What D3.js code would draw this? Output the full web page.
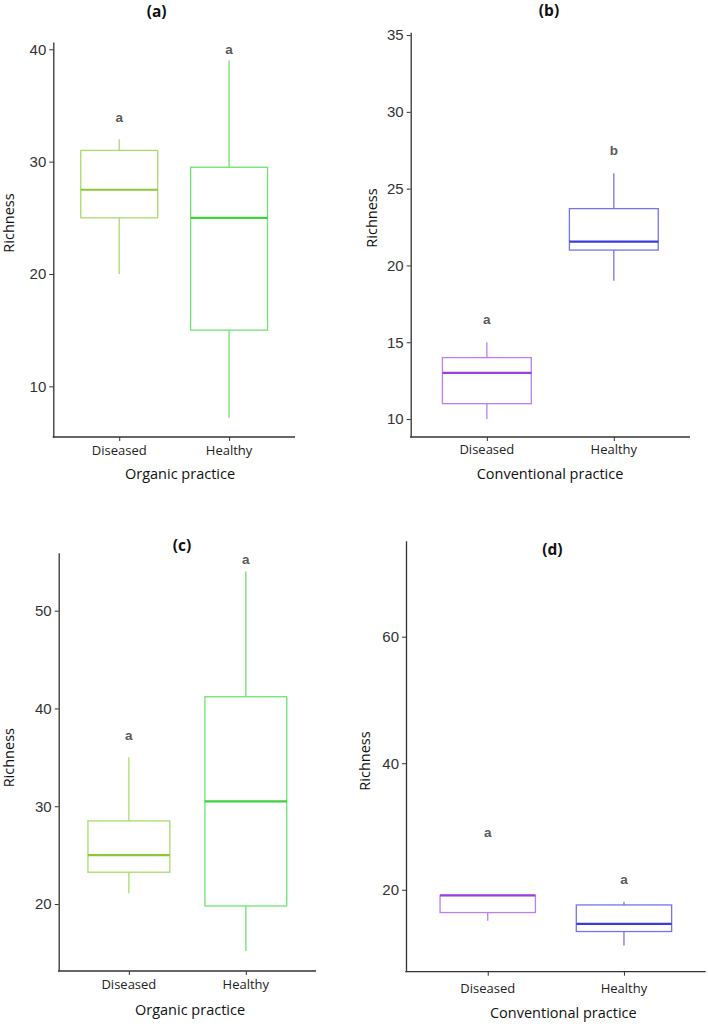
<!DOCTYPE html>
<html>
<head>
<meta charset="utf-8">
<script src="https://cdn.jsdelivr.net/npm/d3@7"></script>
<style>
  html, body { margin: 0; padding: 0; background: #fff; }
  svg { display: block; }
</style>
</head>
<body>
<svg id="chart" width="708" height="1027"></svg>
<script>
// ---------- DATA ----------
const categories = ["Diseased", "Healthy"];
const panelTitles = ["(a)", "(b)", "(c)", "(d)"];
const xTitles = ["Organic practice", "Conventional practice", "Organic practice", "Conventional practice"];
const yTitle = "Richness";

// box stats per category: [lower whisker, Q1, median, Q3, upper whisker]
const statsA = [[20, 25, 27.5, 31, 32], [7.2, 15, 25, 29.5, 39]];
const statsB = [[10, 11, 13, 14, 15], [19, 21, 21.55, 23.7, 26]];
const statsC = [[21.1, 23.25, 25, 28.5, 35], [15.2, 19.8, 30.5, 41.2, 54]];
const statsD = [[15.1, 16.4, 19.1, 19.1, 19.1], [11.2, 13.4, 14.6, 17.6, 18.1]];

// significance letters and their y positions (data units)
const lettersA = ["a", "a"];
const lettersB = ["a", "b"];
const lettersC = ["a", "a"];
const lettersD = ["a", "a"];
const letterYA = [33.9, 40.0];
const letterYB = [16.45, 27.5];
const letterYC = [37.2, 55.25];
const letterYD = [29.0, 21.7];

// y-axis ticks and domains
const ticksA = [10, 20, 30, 40];
const ticksB = [10, 15, 20, 25, 30, 35];
const ticksC = [20, 30, 40, 50];
const ticksD = [20, 40, 60];
const domainA = [5.49, 40.65];
const domainB = [8.83, 35.18];
const domainC = [13.15, 55.93];
const domainD = [7.05, 75.17];

// ---------- STYLE / LAYOUT ----------
const organicColors = [
  { line: "#a9dc6a", median: "#8cc63c" },
  { line: "#6ee46e", median: "#3dd13d" }
];
const conventionalColors = [
  { line: "#bb80f0", median: "#9a3fdc" },
  { line: "#7474ee", median: "#3c3cd8" }
];

const panels = [
  { stats: statsA, letters: lettersA, letterY: letterYA, ticks: ticksA, domain: domainA,
    colors: organicColors, title: panelTitles[0], xTitle: xTitles[0],
    left: 53.3, right: 295, top: 42, bottom: 437,
    titlePos: [156.7, 11], yTitlePos: [8, 223], xLabY: 450, xTitlePos: [180, 473] },
  { stats: statsB, letters: lettersB, letterY: letterYB, ticks: ticksB, domain: domainB,
    colors: conventionalColors, title: panelTitles[1], xTitle: xTitles[1],
    left: 410.7, right: 690, top: 32.3, bottom: 437,
    titlePos: [549, 10], yTitlePos: [371, 218], xLabY: 449, xTitlePos: [550, 473] },
  { stats: statsC, letters: lettersC, letterY: letterYC, ticks: ticksC, domain: domainC,
    colors: organicColors, title: panelTitles[2], xTitle: xTitles[2],
    left: 58.7, right: 316, top: 552.7, bottom: 971,
    titlePos: [182, 545], yTitlePos: [8, 757.7], xLabY: 984.3, xTitlePos: [190, 1009] },
  { stats: statsD, letters: lettersD, letterY: letterYD, ticks: ticksD, domain: domainD,
    colors: conventionalColors, title: panelTitles[3], xTitle: xTitles[3],
    left: 406, right: 705.7, top: 540.7, bottom: 971.7,
    titlePos: [552.3, 549.3], yTitlePos: [364, 761], xLabY: 988.3, xTitlePos: [563.3, 1012.3] }
];

const svg = d3.select("#chart");
const axisColor = "#333333";
const tickTextColor = "#333333";
const labelFont = "'Open Sans', 'Noto Sans', sans-serif";
const numFont = "'Liberation Sans', Arial, sans-serif";

panels.forEach(p => {
  const g = svg.append("g");
  const x = d3.scalePoint().domain(categories).range([p.left, p.right]).padding(0.6);
  const y = d3.scaleLinear().domain(p.domain).range([p.bottom, p.top]);
  const step = x.step();
  const bw = step * 0.7;

  // y axis
  const yAxis = d3.axisLeft(y).tickValues(p.ticks).tickSize(4).tickSizeOuter(0).tickPadding(3).tickFormat(d3.format("d"));
  const yg = g.append("g").attr("transform", `translate(${p.left},0)`).call(yAxis);
  yg.select(".domain").attr("stroke", axisColor).attr("stroke-width", 1.3);
  yg.selectAll(".tick line").attr("stroke", axisColor).attr("stroke-width", 1);
  yg.selectAll(".tick text").attr("fill", tickTextColor).style("font-family", numFont).style("font-size", "15px");

  // x axis
  const xAxis = d3.axisBottom(x).tickSize(4).tickSizeOuter(0).tickFormat(() => "");
  const xg = g.append("g").attr("transform", `translate(0,${p.bottom})`).call(xAxis);
  xg.select(".domain").attr("stroke", axisColor).attr("stroke-width", 1.3)
    .attr("d", `M${p.left - 0.6},0H${p.right}`);
  xg.selectAll(".tick line").attr("stroke", axisColor).attr("stroke-width", 1);

  // x category labels
  g.selectAll(".xlab").data(categories).enter().append("text")
    .attr("x", d => x(d)).attr("y", p.xLabY)
    .attr("text-anchor", "middle").attr("dominant-baseline", "central")
    .style("font-family", labelFont).style("font-size", "13px").attr("fill", "#222")
    .text(d => d);

  // boxes
  const boxes = g.selectAll(".box").data(categories.map((c, i) => ({ c, s: p.stats[i], col: p.colors[i] })))
    .enter().append("g");
  boxes.append("line")
    .attr("x1", d => x(d.c)).attr("x2", d => x(d.c))
    .attr("y1", d => y(d.s[4])).attr("y2", d => y(d.s[3]))
    .attr("stroke", d => d.col.line).attr("stroke-width", 1.3);
  boxes.append("line")
    .attr("x1", d => x(d.c)).attr("x2", d => x(d.c))
    .attr("y1", d => y(d.s[1])).attr("y2", d => y(d.s[0]))
    .attr("stroke", d => d.col.line).attr("stroke-width", 1.3);
  boxes.append("rect")
    .attr("x", d => x(d.c) - bw / 2).attr("width", bw)
    .attr("y", d => y(d.s[3])).attr("height", d => y(d.s[1]) - y(d.s[3]))
    .attr("fill", "#fff").attr("stroke", d => d.col.line).attr("stroke-width", 1.3);
  boxes.append("line")
    .attr("x1", d => x(d.c) - bw / 2).attr("x2", d => x(d.c) + bw / 2)
    .attr("y1", d => y(d.s[2])).attr("y2", d => y(d.s[2]))
    .attr("stroke", d => d.col.median).attr("stroke-width", 2.2);

  // letters
  g.selectAll(".let").data(categories).enter().append("text")
    .attr("x", d => x(d)).attr("y", (d, i) => y(p.letterY[i]))
    .attr("text-anchor", "middle").attr("dominant-baseline", "central")
    .style("font-family", numFont).style("font-size", "13.5px").style("font-weight", "bold")
    .attr("fill", "#5a5a5a")
    .text((d, i) => p.letters[i]);

  // panel title
  g.append("text").attr("x", p.titlePos[0]).attr("y", p.titlePos[1])
    .attr("text-anchor", "middle").attr("dominant-baseline", "central")
    .style("font-family", labelFont).style("font-size", "15.5px").style("font-weight", "bold")
    .attr("fill", "#111").text(p.title);

  // x title
  g.append("text").attr("x", p.xTitlePos[0]).attr("y", p.xTitlePos[1])
    .attr("text-anchor", "middle").attr("dominant-baseline", "central")
    .style("font-family", labelFont).style("font-size", "14.5px")
    .attr("fill", "#111").text(p.xTitle);

  // y title
  g.append("text")
    .attr("transform", `translate(${p.yTitlePos[0]},${p.yTitlePos[1]}) rotate(-90)`)
    .attr("text-anchor", "middle").attr("dominant-baseline", "central")
    .style("font-family", labelFont).style("font-size", "14.5px")
    .attr("fill", "#111").text(yTitle);
});
</script>
</body>
</html>
